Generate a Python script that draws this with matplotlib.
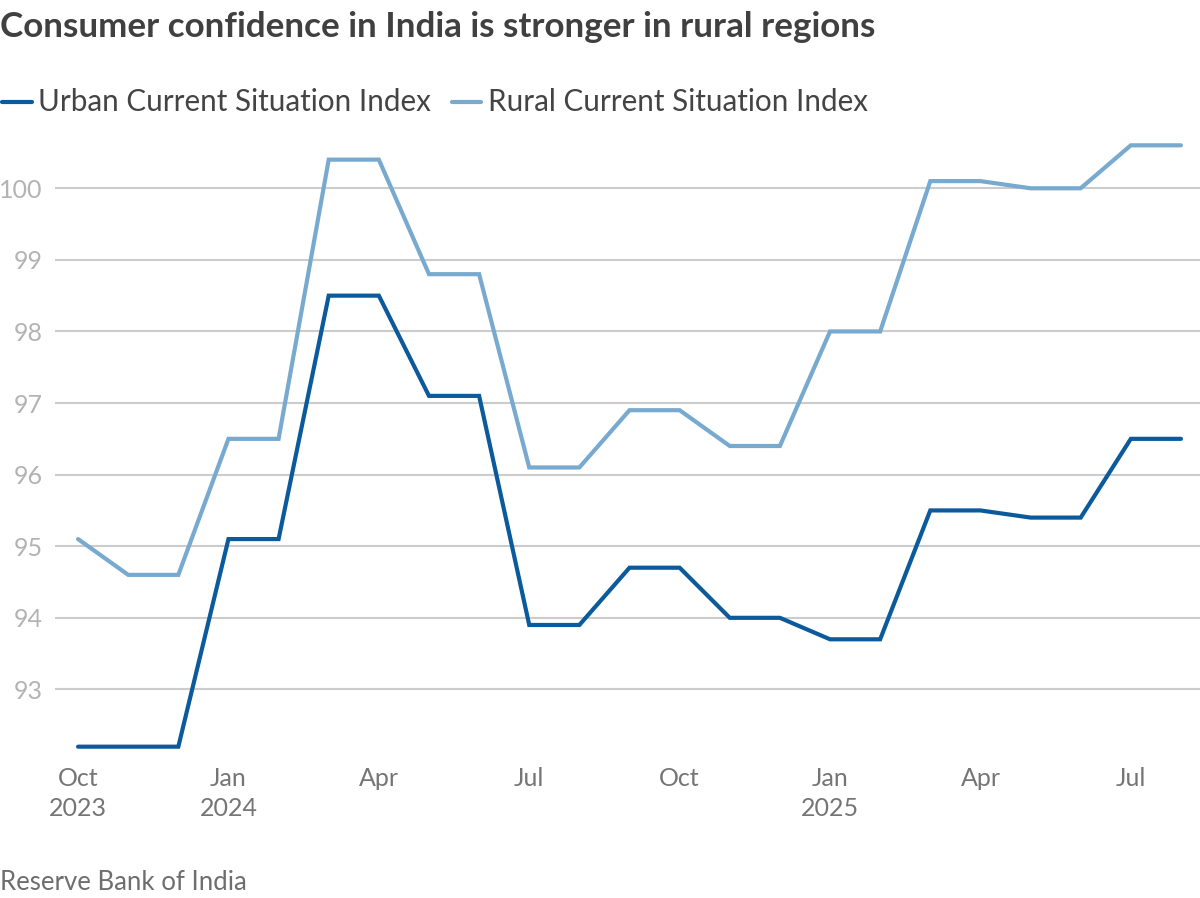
import matplotlib
matplotlib.use("Agg")
import matplotlib.pyplot as plt

months = ["2023-10", "2023-11", "2023-12", "2024-01", "2024-02", "2024-03", "2024-04",
          "2024-05", "2024-06", "2024-07", "2024-08", "2024-09", "2024-10", "2024-11",
          "2024-12", "2025-01", "2025-02", "2025-03", "2025-04", "2025-05", "2025-06",
          "2025-07", "2025-08"]
urban = [92.2, 92.2, 92.2, 95.1, 95.1, 98.5, 98.5, 97.1, 97.1, 93.9, 93.9, 94.7, 94.7,
         94.0, 94.0, 93.7, 93.7, 95.5, 95.5, 95.4, 95.4, 96.5, 96.5]
rural = [95.1, 94.6, 94.6, 96.5, 96.5, 100.4, 100.4, 98.8, 98.8, 96.1, 96.1, 96.9, 96.9,
         96.4, 96.4, 98.0, 98.0, 100.1, 100.1, 100.0, 100.0, 100.6, 100.6]
tick_pos = [0, 3, 6, 9, 12, 15, 18, 21]
tick_labels = ["Oct\n2023", "Jan\n2024", "Apr", "Jul", "Oct", "Jan\n2025", "Apr", "Jul"]
yticks = [93, 94, 95, 96, 97, 98, 99, 100]

title = "Consumer confidence in India is stronger in rural regions"
source = "Reserve Bank of India"

URBAN_C = "#0b5a9c"
RURAL_C = "#78a9cf"

fig = plt.figure(figsize=(12, 8.98), dpi=100)
ax = fig.add_axes([55 / 1200, 1 - 761 / 898, 1 - 55 / 1200, (761 - 131) / 898])

x = list(range(len(months)))
ax.plot(x, rural, color=RURAL_C, lw=3.0, solid_capstyle="round", solid_joinstyle="miter", zorder=3)
ax.plot(x, urban, color=URBAN_C, lw=3.0, solid_capstyle="round", solid_joinstyle="miter", zorder=4)

ax.set_xlim(-0.46, 22.38)
ax.set_ylim(92.0, 100.8)
ax.set_yticks(yticks)
ax.set_yticklabels([str(v) for v in yticks], family="Lato",
                   fontsize=18, color="#b3b3b3", fontweight="normal")
ax.set_xticks(tick_pos)
ax.set_xticklabels(tick_labels, family="Lato", fontsize=18, color="#757575",
                   fontweight="normal", linespacing=1.4)
ax.tick_params(axis="y", length=0, pad=9)
ax.tick_params(axis="x", length=0, pad=4)
ax.grid(axis="y", color="#cccccc", lw=1.5)
ax.set_axisbelow(True)
for s in ax.spines.values():
    s.set_visible(False)

fig.text(0.0, 1 - 27 / 898, title, family="Lato", fontweight="bold", fontsize=25.2,
         color="#404040", va="center", ha="left")

# legend
ly = 1 - 102 / 898
fig.add_artist(plt.Line2D([2 / 1200, 32 / 1200], [ly, ly], color=URBAN_C, lw=3, solid_capstyle="round"))
fig.text(38 / 1200, ly, "Urban Current Situation Index", family="Lato", fontweight="normal",
         fontsize=21.3, color="#444444", va="center", ha="left")
fig.add_artist(plt.Line2D([452 / 1200, 481 / 1200], [ly, ly], color=RURAL_C, lw=3, solid_capstyle="round"))
fig.text(488 / 1200, ly, "Rural Current Situation Index", family="Lato", fontweight="normal",
         fontsize=21.3, color="#444444", va="center", ha="left")

fig.text(0.0, 1 - 882 / 898, source, family="Lato", fontweight="normal", fontsize=18.5,
         color="#6e6e6e", va="center", ha="left")

fig.savefig("out.png", dpi=100)
